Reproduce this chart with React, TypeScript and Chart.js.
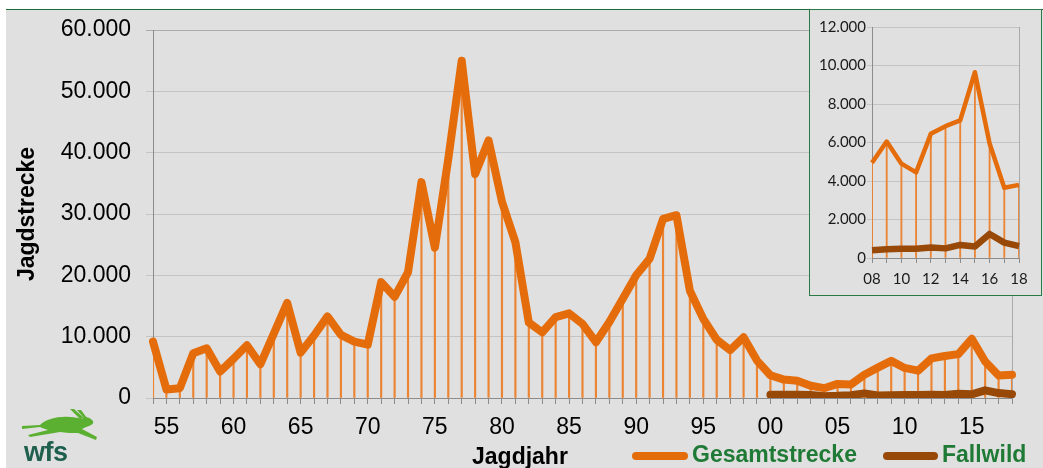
import React, { useEffect, useRef } from 'react';
import { Chart, registerables } from 'chart.js';

Chart.register(...registerables);

// ---------- data ----------
const years = [
  1954, 1955, 1956, 1957, 1958, 1959, 1960, 1961, 1962, 1963,
  1964, 1965, 1966, 1967, 1968, 1969, 1970, 1971, 1972, 1973,
  1974, 1975, 1976, 1977, 1978, 1979, 1980, 1981, 1982, 1983,
  1984, 1985, 1986, 1987, 1988, 1989, 1990, 1991, 1992, 1993,
  1994, 1995, 1996, 1997, 1998, 1999, 2000, 2001, 2002, 2003,
  2004, 2005, 2006, 2007, 2008, 2009, 2010, 2011, 2012, 2013,
  2014, 2015, 2016, 2017, 2018,
];

const gesamtstrecke = [
  9200, 1400, 1600, 7300, 8100, 4300, 6400, 8600, 5500, 10500,
  15500, 7400, 10200, 13300, 10300, 9200, 8700, 18900, 16500, 20500,
  35200, 24500, 39000, 55000, 36500, 42000, 32000, 25400, 12300, 10700,
  13200, 13800, 12100, 9100, 12400, 16200, 20000, 22700, 29200, 29800,
  17500, 12900, 9500, 7800, 9900, 6100, 3700, 3000, 2800, 2000,
  1600, 2300, 2200, 3800, 4950, 6050, 4900, 4450, 6450, 6850,
  7150, 9650, 5950, 3650, 3800,
];

const fallwild = [
  null, null, null, null, null, null, null, null, null, null,
  null, null, null, null, null, null, null, null, null, null,
  null, null, null, null, null, null, null, null, null, null,
  null, null, null, null, null, null, null, null, null, null,
  null, null, null, null, null, null, 550, 550, 550, 500,
  300, 350, 450, 750, 400, 450, 480, 480, 550, 500,
  680, 600, 1250, 800, 620,
];

const mainYTicks = [0, 10000, 20000, 30000, 40000, 50000, 60000];
const insetYTicks = [0, 2000, 4000, 6000, 8000, 10000, 12000];
const insetStartYear = 2008;

const seriesNames = ['Gesamtstrecke', 'Fallwild'];
const xTitle = 'Jagdjahr';
const yTitle = 'Jagdstrecke';

// ---------- styles ----------
const ORANGE = '#E46C0A';
const DROP = '#EB8433';
const BROWN = '#984807';
const GREEN_TEXT = '#1F7A35';
const GRID = '#C4C4C4';
const AXIS = '#8C8C8C';
const ARIAL = "'Liberation Sans', Arial, sans-serif";
const LATO = "Lato, 'Open Sans', sans-serif";

const fmt = (v: number) => String(v).replace(/\B(?=(\d{3})+(?!\d))/g, '.');

export default function App() {
  const mainRef = useRef<HTMLCanvasElement | null>(null);
  const insetRef = useRef<HTMLCanvasElement | null>(null);

  useEffect(() => {
    const prevMargin = document.body.style.margin;
    document.body.style.margin = '0';

    const labels = years.map(String);
    const main = new Chart(mainRef.current as HTMLCanvasElement, {
      data: {
        labels,
        datasets: [
          {
            type: 'line',
            label: seriesNames[1],
            data: fallwild,
            borderColor: BROWN,
            backgroundColor: BROWN,
            borderWidth: 8,
            pointRadius: 0,
            tension: 0,
            borderCapStyle: 'round',
            borderJoinStyle: 'round',
            order: 0,
          },
          {
            type: 'line',
            label: seriesNames[0],
            data: gesamtstrecke,
            borderColor: ORANGE,
            backgroundColor: ORANGE,
            borderWidth: 8,
            pointRadius: 0,
            tension: 0,
            borderCapStyle: 'round',
            borderJoinStyle: 'round',
            order: 1,
          },
          {
            type: 'bar',
            label: 'drop',
            data: gesamtstrecke,
            backgroundColor: DROP,
            barThickness: 1.5,
            order: 5,
          },
        ],
      } as any,
      options: {
        responsive: false,
        animation: false,
        devicePixelRatio: 1,
        layout: { padding: { left: 0, top: 30, right: 31, bottom: 0 } },
        plugins: { legend: { display: false }, tooltip: { enabled: false } },
        scales: {
          x: {
            type: 'category',
            offset: false,
            grid: {
              offset: false,
              drawOnChartArea: true,
              drawTicks: true,
              tickLength: 6,
              tickColor: AXIS,
              color: (ctx: any) => (ctx.index === years.length - 1 ? '#A8A8A8' : 'rgba(0,0,0,0)'),
              lineWidth: 1,
            },
            border: { display: true, color: AXIS, width: 1 },
            ticks: {
              autoSkip: false,
              maxRotation: 0,
              minRotation: 0,
              padding: 10,
              color: '#000',
              font: { family: ARIAL, size: 23 },
              callback: (_v: any, i: number) => (years[i] % 5 === 0 ? String(years[i]).slice(2) : ''),
            },
            afterFit: (s: any) => {
              s.height = 70;
            },
          },
          y: {
            min: mainYTicks[0],
            max: mainYTicks[mainYTicks.length - 1],
            afterBuildTicks: (s: any) => {
              s.ticks = mainYTicks.map((v) => ({ value: v }));
            },
            grid: {
              color: (ctx: any) => (ctx.tick && ctx.tick.value === 60000 ? '#ABABAB' : GRID),
              lineWidth: 1,
              tickLength: 7,
            },
            border: { display: true, color: AXIS, width: 1 },
            ticks: {
              padding: 15,
              color: '#000',
              font: { family: ARIAL, size: 23 },
              callback: (v: any) => fmt(Number(v)),
            },
            title: {
              display: true,
              text: yTitle,
              color: '#000',
              font: { family: ARIAL, size: 23, weight: 'bold' },
              padding: { top: 14, bottom: 0 },
            },
            afterFit: (s: any) => {
              s.width = 153;
            },
          },
        },
      } as any,
    });

    const startIdx = years.indexOf(insetStartYear);
    const insetYears = years.slice(startIdx);
    const insetGes = gesamtstrecke.slice(startIdx);
    const insetFall = fallwild.slice(startIdx);

    const inset = new Chart(insetRef.current as HTMLCanvasElement, {
      data: {
        labels: insetYears.map(String),
        datasets: [
          {
            type: 'line',
            label: seriesNames[1],
            data: insetFall,
            borderColor: BROWN,
            borderWidth: 6.5,
            pointRadius: 0,
            tension: 0,
            borderCapStyle: 'butt',
            borderJoinStyle: 'round',
            order: 0,
          },
          {
            type: 'line',
            label: seriesNames[0],
            data: insetGes,
            borderColor: ORANGE,
            borderWidth: 4.5,
            pointRadius: 0,
            tension: 0,
            borderCapStyle: 'butt',
            borderJoinStyle: 'round',
            order: 1,
          },
          {
            type: 'bar',
            label: 'drop',
            data: insetGes,
            backgroundColor: DROP,
            barThickness: 1.2,
            order: 5,
          },
        ],
      } as any,
      options: {
        responsive: false,
        animation: false,
        devicePixelRatio: 1,
        layout: { padding: { left: 0, top: 17, right: 22, bottom: 0 } },
        plugins: { legend: { display: false }, tooltip: { enabled: false } },
        scales: {
          x: {
            type: 'category',
            offset: false,
            grid: {
              offset: false,
              drawOnChartArea: true,
              drawTicks: true,
              tickLength: 5,
              tickColor: AXIS,
              color: (ctx: any) => (ctx.index === insetYears.length - 1 ? '#A8A8A8' : 'rgba(0,0,0,0)'),
              lineWidth: 1,
            },
            border: { display: true, color: AXIS, width: 1 },
            ticks: {
              autoSkip: false,
              maxRotation: 0,
              minRotation: 0,
              padding: 7,
              color: '#1A1A1A',
              font: { family: LATO, size: 15 },
              callback: (_v: any, i: number) =>
                insetYears[i] % 2 === 0 ? String(insetYears[i]).slice(2) : '',
            },
            afterFit: (s: any) => {
              s.height = 37;
            },
          },
          y: {
            min: insetYTicks[0],
            max: insetYTicks[insetYTicks.length - 1],
            afterBuildTicks: (s: any) => {
              s.ticks = insetYTicks.map((v) => ({ value: v }));
            },
            grid: { color: GRID, lineWidth: 1, tickLength: 5 },
            border: { display: true, color: AXIS, width: 1 },
            ticks: {
              padding: 1,
              color: '#1A1A1A',
              font: { family: LATO, size: 15 },
              callback: (v: any) => fmt(Number(v)),
            },
            afterFit: (s: any) => {
              s.width = 62;
            },
          },
        },
      } as any,
    });

    return () => {
      main.destroy();
      inset.destroy();
      document.body.style.margin = prevMargin;
    };
  }, []);

  const abs = (o: React.CSSProperties): React.CSSProperties => ({ position: 'absolute', ...o });

  return (
    <div style={{ position: 'absolute', left: 0, top: 0, width: 1043, height: 468, background: '#fff', overflow: 'hidden' }}>
      <div style={abs({ left: 6, top: 9, width: 1037, height: 459, background: '#E0E0E0', borderTop: '1px solid #1E6A38', boxSizing: 'border-box' })} />
      <canvas ref={mainRef} width={1043} height={468} style={abs({ left: 0, top: 0, width: 1043, height: 468 })} />

      {/* inset */}
      <div
        style={abs({
          left: 809,
          top: 9,
          width: 233,
          height: 287,
          background: '#E0E0E0',
          border: '1px solid #2B7A45',
          boxSizing: 'border-box',
        })}
      >
        <canvas ref={insetRef} width={231} height={285} style={{ display: 'block', width: 231, height: 285 }} />
      </div>

      {/* x axis title */}
      <span style={abs({ left: 472, top: 445, font: `bold 23px ${ARIAL}`, lineHeight: '23px', color: '#000', whiteSpace: 'nowrap' })}>
        {xTitle}
      </span>

      {/* legend */}
      <div style={abs({ left: 632, top: 451.5, width: 56, height: 8, borderRadius: 4, background: ORANGE })} />
      <span style={abs({ left: 692, top: 443, font: `bold 23px ${ARIAL}`, lineHeight: '23px', color: GREEN_TEXT, whiteSpace: 'nowrap' })}>
        {seriesNames[0]}
      </span>
      <div style={abs({ left: 883, top: 451.5, width: 55, height: 8, borderRadius: 4, background: BROWN })} />
      <span style={abs({ left: 942, top: 443, font: `bold 23px ${ARIAL}`, lineHeight: '23px', color: GREEN_TEXT, whiteSpace: 'nowrap' })}>
        {seriesNames[1]}
      </span>

      {/* logo */}
      <svg style={abs({ left: 18, top: 404, width: 85, height: 42 })} viewBox="18 404 85 42">
        <g fill="#5BB031">
          <path d="M40,425 C46,419 58,416 70,417 C75,417 79,418 82,419 C85,416 90,417 93,421 C94,423 92,425 89,426 C86,427 84,428 82,429 L97,437 L96,440 L78,433 C72,433 66,433 60,432 L30,437 L28,435 L48,430 C45,429 42,428 40,427 L22,429 L22,426 Z" />
          <polygon points="80,419 70,409 74,409 84,418" />
          <polygon points="84,418 77,410 81,410 87,418" />
        </g>
      </svg>
      <span style={abs({ left: 24, top: 439, font: `bold 27px ${ARIAL}`, lineHeight: '27px', color: '#1F5F4D', letterSpacing: '-0.5px' })}>
        wfs
      </span>
    </div>
  );
}
